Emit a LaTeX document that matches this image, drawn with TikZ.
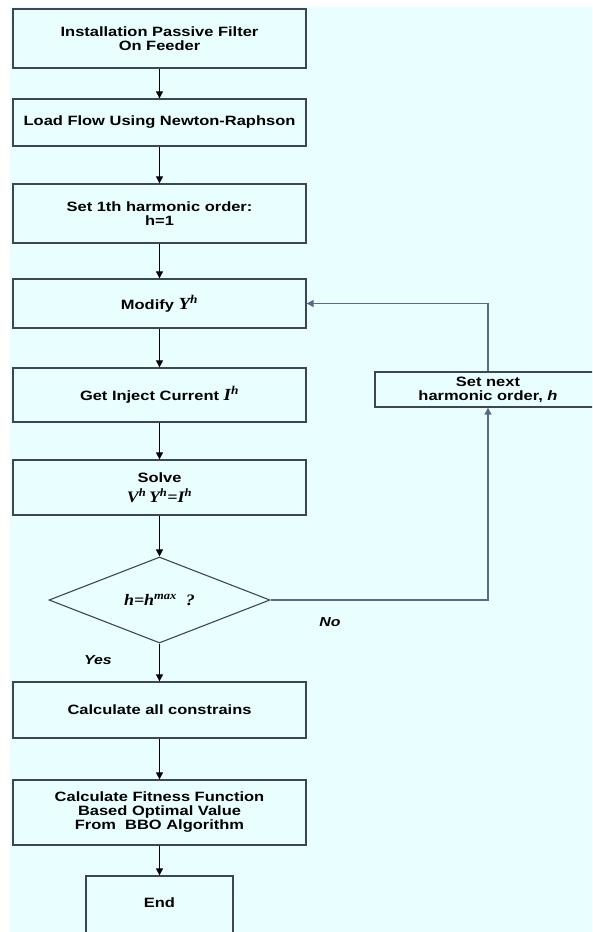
\documentclass[tikz,border=0pt]{standalone}
\usepackage{fontspec}
\setmainfont[FakeStretch=1.22]{Liberation Sans}
\newfontfamily\eqfont[FakeStretch=1.12]{Liberation Serif}
\usetikzlibrary{positioning, shapes.geometric, arrows.meta}

\definecolor{bgcyan}{HTML}{E9FFFF}
\definecolor{edge}{HTML}{3E4652}
\definecolor{loopline}{HTML}{5A6A84}
\newcommand{\eqv}[1]{{\eqfont\bfseries\itshape #1}}

\begin{document}
\begin{tikzpicture}
[
    x=1pt, y=-1pt,
    font=\fontsize{13.5}{14}\selectfont\bfseries,
    % the nodes are named b1 ... b8, the loop box is next
    >={Triangle[length=7pt, width=7pt]}
]

%=================================== Start ===================================
\tikzstyle{box} = [draw=edge, line width=1.3pt, fill=bgcyan, align=center,
                   minimum width=293pt, inner sep=0pt]
\tikzstyle{dec} = [draw=edge, line width=1.1pt, fill=bgcyan, diamond, aspect=2.57,
                   minimum width=221pt, minimum height=86pt, inner sep=0pt]
\tikzstyle{arr} = [->, line width=1pt, black]
\tikzstyle{fb}  = [line width=1.1pt, loopline]
\tikzstyle{lbl} = [font=\fontsize{13}{14}\selectfont\bfseries\itshape]

% page and background
\useasboundingbox (0,0) rectangle (592,932);
\clip (0,0) rectangle (592,932);
\fill[white] (0,0) rectangle (592,932);
\fill[bgcyan] (10,7) rectangle (592,932);

% main column
\node[box, minimum height=59pt] (b1) at (159.5,38.5) {Installation Passive Filter\\On Feeder};
\node[box, minimum height=47pt] (b2) at (159.5,122.5) {Load Flow Using Newton-Raphson};
\node[box, minimum height=59pt] (b3) at (159.5,213.5) {Set 1th harmonic order:\\h=1};
\node[box, minimum height=49pt] (b4) at (159.5,303.5)
    {Modify \eqv{\fontsize{17}{17}\selectfont Y\textsuperscript{h}}};
\node[box, minimum height=54pt] (b5) at (159.5,395)
    {Get Inject Current \eqv{\fontsize{17}{17}\selectfont I\textsuperscript{h}}};
\node[box, minimum height=55pt] (b6) at (159.5,487.5)
    {Solve\\[5pt]\eqv{\fontsize{16}{16}\selectfont V\textsuperscript{h}\,Y\textsuperscript{h}=I\textsuperscript{h}}};
\node[dec] (dec) at (159.5,600)
    {\eqv{\fontsize{16}{16}\selectfont h=h\textsuperscript{max}\ \ ?}};
\node[box, minimum height=56pt] (b7) at (159.5,710) {Calculate all constrains};
\node[box, minimum height=65pt] (b8) at (159.5,812.5)
    {Calculate Fitness Function\\Based Optimal Value\\From\ \ BBO Algorithm};
\node[box, minimum width=147pt, minimum height=60pt, text depth=6pt] (end) at (159.5,906) {End};

% loop box
\node[box, minimum width=226pt, minimum height=35pt] (next) at (488,389.5)
    {Set next\\harmonic order, \textit{h}};

% labels
\node[lbl] (no)  at (330,622) {No};
\node[lbl] (yes) at (98,660)  {Yes};

% connections
\foreach \src / \dst in {b1/b2, b2/b3, b3/b4, b4/b5, b5/b6, b6/dec, dec/b7, b7/b8, b8/end}
    \draw[arr] (\src) -- (\dst);
\draw[fb, ->] (dec.east) -| (next.south);
\draw[fb, ->] (next.north) |- (b4.east);
%==================================== END ====================================

\end{tikzpicture}
\end{document}
